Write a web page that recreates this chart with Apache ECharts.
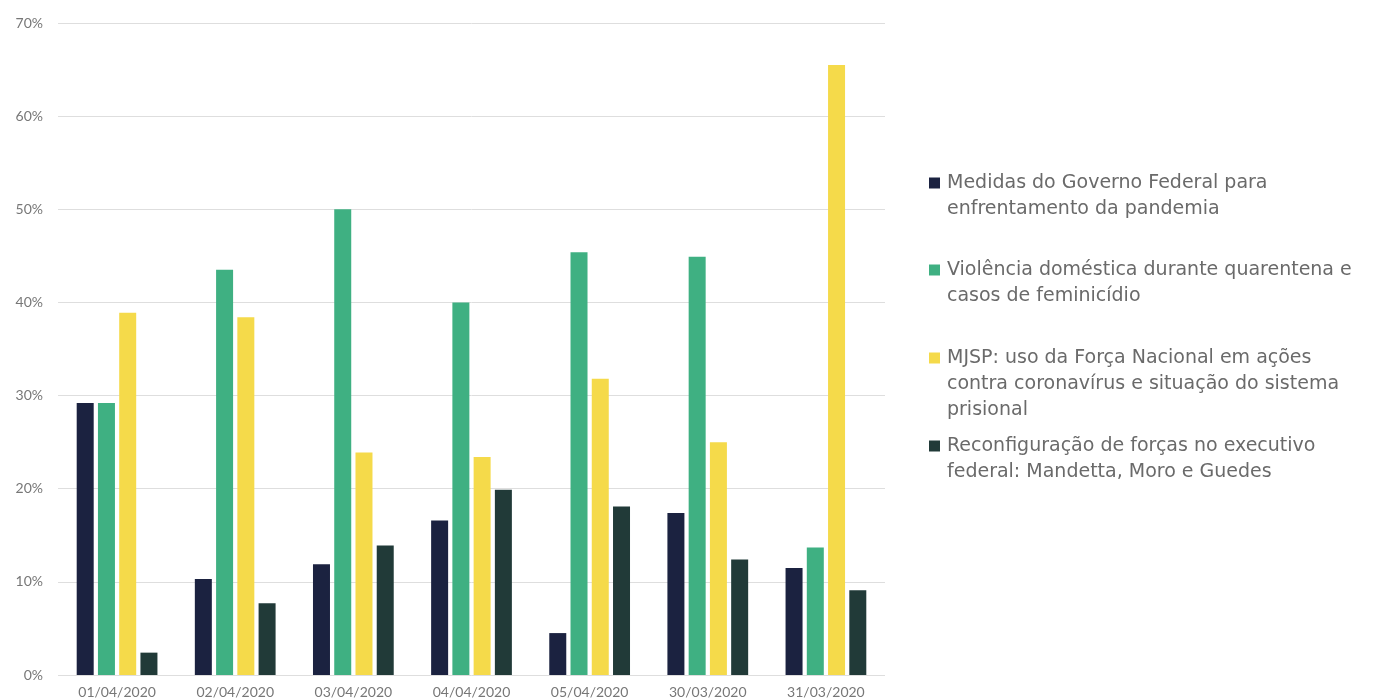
<!DOCTYPE html>
<html>
<head>
<meta charset="utf-8">
<script src="https://cdn.jsdelivr.net/npm/echarts@6/dist/echarts.min.js"></script>
<style>
  html, body { margin: 0; padding: 0; background: #fff; }
  #chart { width: 1375px; height: 699px; }
</style>
</head>
<body>
<div id="chart"></div>
<script>
// categorias (datas)
const categories = ['01/04/2020', '02/04/2020', '03/04/2020', '04/04/2020', '05/04/2020', '30/03/2020', '31/03/2020']

// nomes das séries
const seriesNames = [
  'Medidas do Governo Federal para enfrentamento da pandemia',
  'Violência doméstica durante quarentena e casos de feminicídio',
  'MJSP: uso da Força Nacional em ações contra coronavírus e situação do sistema prisional',
  'Reconfiguração de forças no executivo federal: Mandetta, Moro e Guedes'
]

// texto da legenda com quebra de linha
const legendLines = [
  ['Medidas do Governo Federal para', 'enfrentamento da pandemia'],
  ['Violência doméstica durante quarentena e', 'casos de feminicídio'],
  ['MJSP: uso da Força Nacional em ações', 'contra coronavírus e situação do sistema', 'prisional'],
  ['Reconfiguração de forças no executivo', 'federal: Mandetta, Moro e Guedes']
]

// valores (%)
const medidas = [29.2, 10.3, 11.9, 16.6, 4.5, 17.4, 11.5]
const violencia = [29.2, 43.5, 50.0, 40.0, 45.4, 44.9, 13.7]
const mjsp = [38.9, 38.4, 23.9, 23.4, 31.8, 25.0, 65.5]
const reconfig = [2.4, 7.7, 13.9, 19.9, 18.1, 12.4, 9.1]

const yTicks = [0, 10, 20, 30, 40, 50, 60, 70]

const colors = ['#1b2240', '#3fb082', '#f5da4a', '#213a38']
const values = [medidas, violencia, mjsp, reconfig]
const fontFamily = 'Lato, "Open Sans", sans-serif'

const chart = echarts.init(document.getElementById('chart'))

// cada item da legenda em posição fixa; linhas vazias acima para alinhar o ícone à 1ª linha
const legendTops = [182, 269, 357, 445]
const lineH = 26
const legends = seriesNames.map((name, i) => {
  const lines = legendLines[i]
  const pad = new Array(lines.length - 1).fill('')
  return {
    data: [name],
    orient: 'vertical',
    left: 924,
    top: legendTops[i] - 17 - (lines.length - 1) * lineH,
    itemWidth: 11,
    itemHeight: 11,
    itemGap: 0,
    icon: 'rect',
    selectedMode: false,
    formatter: () => pad.concat(lines).join('\n'),
    textStyle: {
      color: '#6a6a6a',
      fontSize: 19,
      lineHeight: lineH,
      fontFamily: '"DejaVu Sans", sans-serif',
      padding: [0, 0, 0, 2]
    }
  }
})

const option = {
  animation: false,
  color: colors,
  grid: {
    left: 58,
    right: 490,
    top: 23,
    bottom: 23,
    containLabel: false
  },
  legend: legends,
  xAxis: {
    type: 'category',
    data: categories,
    axisLine: { show: false },
    axisTick: { show: false },
    axisLabel: {
      color: '#777',
      fontSize: 14,
      fontFamily: fontFamily,
      margin: 10
    }
  },
  yAxis: {
    type: 'value',
    min: yTicks[0],
    max: yTicks[yTicks.length - 1],
    interval: 10,
    axisLine: { show: false },
    axisTick: { show: false },
    axisLabel: {
      color: '#777',
      fontSize: 14,
      fontFamily: fontFamily,
      margin: 15,
      formatter: '{value}%'
    },
    splitLine: {
      lineStyle: { color: '#dedede', width: 1 }
    }
  },
  series: seriesNames.map((name, i) => ({
    name: name,
    type: 'bar',
    data: values[i],
    barWidth: 17,
    barGap: '25%',
    itemStyle: { color: colors[i] }
  }))
}

chart.setOption(option)
window.addEventListener('resize', () => chart.resize())
</script>
</body>
</html>
